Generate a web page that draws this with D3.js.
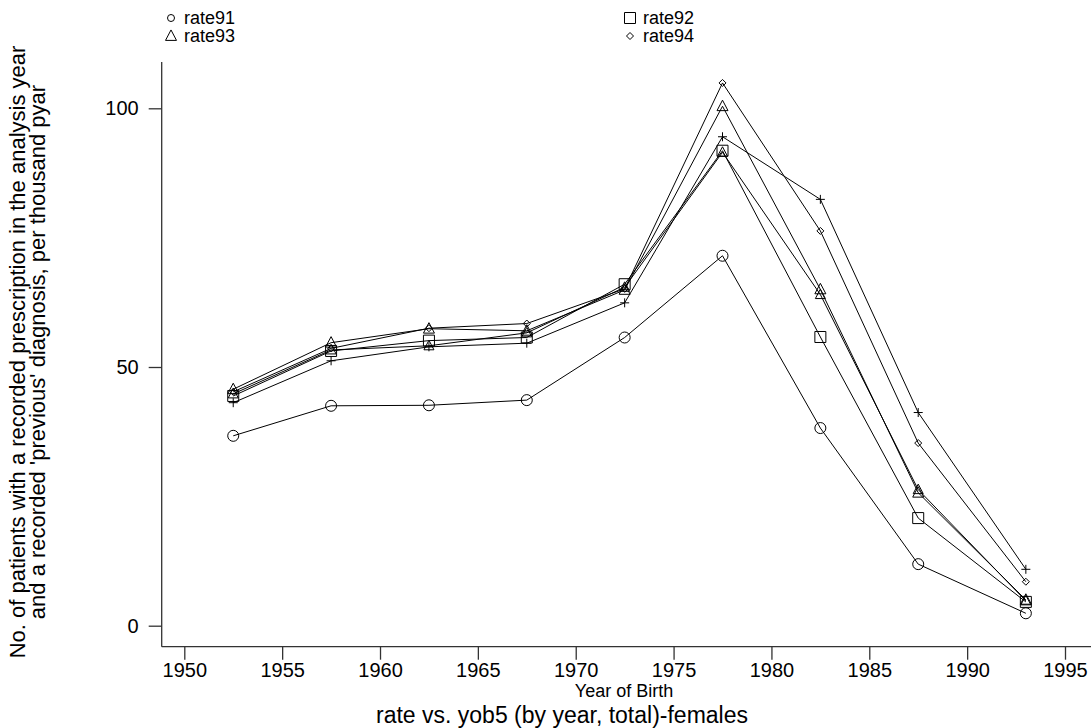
<!DOCTYPE html>
<html>
    <head>
        <meta charset="utf-8">
        <style>
        html, body {
            margin: 0px;
            background: #fff;
        }
        svg {
            display: block;
        }
        text {
            font-family: "Liberation Sans", Arial, sans-serif;
            fill: #000;
        }
        .axis path,
        .axis line {
            fill: none;
            stroke: #333;
            stroke-width: 1.3px;
        }
        .series path.line {
            fill: none;
            stroke: #000;
            stroke-width: 1px;
        }
        .marker {
            fill: none;
            stroke: #000;
            stroke-width: 1px;
        }
        </style>
    </head>
    <body>
        <svg class="chart" width="1091" height="728"></svg>
        <script src="https://d3js.org/d3.v7.min.js"></script>
        <script>
            // year-of-birth groups (5 year bands, last one partial)
            var years = [1952.5, 1957.5, 1962.5, 1967.5, 1972.5, 1977.5, 1982.5, 1987.5, 1993];

            var rate91 = [36.7, 42.5, 42.6, 43.6, 55.7, 71.5, 38.2, 11.9, 2.4];
            var rate92 = [44.4, 53.1, 55.1, 55.7, 66.0, 91.8, 55.8, 20.8, 4.6];
            var rate93 = [45.7, 54.7, 57.4, 57.0, 64.9, 100.4, 65.0, 25.7, 5.0];
            var rate94 = [45.2, 53.6, 57.5, 58.4, 65.1, 104.9, 76.3, 35.3, 8.5];
            var rate95 = [44.8, 53.3, 54.1, 56.6, 65.4, 91.5, 64.0, 26.3, 4.8];
            var rate96 = [43.1, 51.2, 53.9, 54.6, 62.4, 94.5, 82.4, 41.2, 10.9];

            var xTicks = [1950, 1955, 1960, 1965, 1970, 1975, 1980, 1985, 1990, 1995];
            var yTicks = [0, 50, 100];

            var seriesNames = ["rate91", "rate92", "rate93", "rate94", "rate95", "rate96"];
            var seriesValues = [rate91, rate92, rate93, rate94, rate95, rate96];
            var legendNames = ["rate91", "rate92", "rate93", "rate94"];

            // custom thin symbols, like the old Stata ones
            var symCircle = {draw: function(ctx, size) {
                var r = Math.sqrt(size) / 2;
                ctx.moveTo(r, 0);
                ctx.arc(0, 0, r, 0, 2 * Math.PI);
            }};
            var symSquare = {draw: function(ctx, size) {
                var r = Math.sqrt(size) / 2;
                ctx.rect(-r, -r, 2 * r, 2 * r);
            }};
            var symTriangle = {draw: function(ctx, size) {
                var r = Math.sqrt(size) / 2;
                ctx.moveTo(0, -r * 1.1);
                ctx.lineTo(r, r * 0.8);
                ctx.lineTo(-r, r * 0.8);
                ctx.closePath();
            }};
            var symDiamond = {draw: function(ctx, size) {
                var r = Math.sqrt(size) / 2;
                ctx.moveTo(0, -r);
                ctx.lineTo(r, 0);
                ctx.lineTo(0, r);
                ctx.lineTo(-r, 0);
                ctx.closePath();
            }};
            var symPlus = {draw: function(ctx, size) {
                var r = Math.sqrt(size) / 2;
                ctx.moveTo(-r, 0);
                ctx.lineTo(r, 0);
                ctx.moveTo(0, -r);
                ctx.lineTo(0, r);
            }};

            var symbols = {
                rate91: {type: symCircle, size: 11 * 11},
                rate92: {type: symSquare, size: 11 * 11},
                rate93: {type: symTriangle, size: 11 * 11},
                rate94: {type: symDiamond, size: 7 * 7},
                rate95: {type: symTriangle, size: 10 * 10},
                rate96: {type: symPlus, size: 9 * 9}
            };
            var legendSymbols = {
                rate91: {type: symCircle, size: 7 * 7},
                rate92: {type: symSquare, size: 11 * 11},
                rate93: {type: symTriangle, size: 11 * 11},
                rate94: {type: symDiamond, size: 7 * 7}
            };

            var chart = d3.select(".chart");

            var x = d3.scaleLinear().domain([1950, 1995]).range([184.3, 1065]);
            var y = d3.scaleLinear().domain([0, 100]).range([625.7, 108.3]);

            var xLeft = 161.7, xRight = 1091, yBottom = 646.7, yTop = 62;

            // x axis
            var xAxis = d3.axisBottom(x).tickValues(xTicks).tickFormat(d3.format("d"))
                          .tickSizeInner(13).tickSizeOuter(0).tickPadding(3);
            var gx = chart.append("g")
                .attr("class", "x axis")
                .attr("transform", "translate(0," + yBottom + ")")
                .call(xAxis);
            gx.select(".domain").attr("d", "M" + xLeft + ",0H" + xRight);
            gx.selectAll("text").style("font-size", "20px").attr("fill", "#000");

            // y axis
            var yAxis = d3.axisLeft(y).tickValues(yTicks).tickFormat(d3.format("d"))
                          .tickSizeInner(13).tickSizeOuter(0).tickPadding(10);
            var gy = chart.append("g")
                .attr("class", "y axis")
                .attr("transform", "translate(" + xLeft + ",0)")
                .call(yAxis);
            gy.select(".domain").attr("d", "M0," + yTop + "V" + yBottom);
            gy.selectAll("text").style("font-size", "20px").attr("fill", "#000");

            // lines and markers
            var line = d3.line()
                .x(function(d) { return x(d.year); })
                .y(function(d) { return y(d.value); });

            seriesNames.forEach(function(name, i) {
                var pts = years.map(function(yr, j) { return {year: yr, value: seriesValues[i][j]}; });
                var g = chart.append("g").attr("class", "series");
                g.append("path").attr("class", "line").attr("d", line(pts));
                g.selectAll(".marker")
                    .data(pts)
                    .enter().append("path")
                    .attr("class", "marker")
                    .attr("transform", function(d) { return "translate(" + x(d.year) + "," + y(d.value) + ")"; })
                    .attr("d", d3.symbol().type(symbols[name].type).size(symbols[name].size));
            });

            // legend (only the first four variables are keyed)
            var legendPos = [[171, 18], [630, 18], [171, 36], [630, 36]];
            legendNames.forEach(function(name, i) {
                var p = legendPos[i];
                chart.append("path")
                    .attr("class", "marker")
                    .attr("transform", "translate(" + p[0] + "," + p[1] + ")")
                    .attr("d", d3.symbol().type(legendSymbols[name].type).size(legendSymbols[name].size));
                chart.append("text")
                    .attr("x", p[0] + 13)
                    .attr("y", p[1] + 6)
                    .style("font-size", "18px")
                    .text(name);
            });

            // axis titles
            chart.append("text")
                .attr("x", 624)
                .attr("y", 697)
                .attr("text-anchor", "middle")
                .style("font-size", "18px")
                .text("Year of Birth");

            chart.append("text")
                .attr("x", 562)
                .attr("y", 723)
                .attr("text-anchor", "middle")
                .style("font-size", "23px")
                .text("rate vs. yob5 (by year, total)-females");

            var yLab = chart.append("text")
                .attr("transform", "translate(25," + 352 + ") rotate(-90)")
                .attr("text-anchor", "middle")
                .style("font-size", "22px");
            yLab.append("tspan").attr("x", 0).attr("dy", 0)
                .text("No. of patients with a recorded prescription in the analysis year");
            yLab.append("tspan").attr("x", 0).attr("dy", 20)
                .text("and a recorded 'previous' diagnosis, per thousand pyar");
        </script>
    </body>
</html>
